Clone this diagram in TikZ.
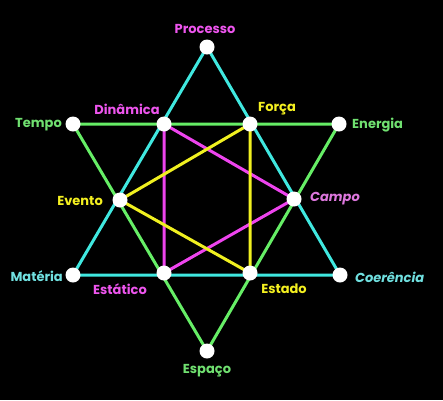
\documentclass[tikz,border=0pt]{standalone}
\usepackage{fontspec}
\setmainfont{Poppins}
\definecolor{cy}{HTML}{40E8E0}
\definecolor{gr}{HTML}{66EE66}
\definecolor{mg}{HTML}{EE44EE}
\definecolor{ye}{HTML}{F0F020}
\definecolor{cyt}{HTML}{70E0E0}
\definecolor{grt}{HTML}{70E070}
\definecolor{mgt}{HTML}{EE55EE}
\definecolor{pkt}{HTML}{DD77DD}
\definecolor{yet}{HTML}{F4F020}
\begin{document}
\begin{tikzpicture}[x=1pt,y=-1pt,
  pt/.style={circle,fill=white,inner sep=0pt,minimum size=15pt},
  lbl/.style={inner sep=0pt,font=\fontsize{13}{15}\selectfont\bfseries},
  ln/.style={line width=3pt}]
\fill[black] (0,0) rectangle (443,400);
\useasboundingbox (0,0) rectangle (443,400);
% points
\coordinate (Proc) at (207,47);
\coordinate (Temp) at (73,124);
\coordinate (Dina) at (164,124);
\coordinate (Forc) at (250,124);
\coordinate (Ener) at (339,124);
\coordinate (Even) at (120,200);
\coordinate (Camp) at (294,199);
\coordinate (Mate) at (73,275);
\coordinate (Esta) at (164,273);
\coordinate (Estd) at (250,273);
\coordinate (Coer) at (340,275);
\coordinate (Espa) at (207,351);
% triangles
\draw[ln,cy] (Proc) -- (Mate) -- (Coer) -- cycle;
\draw[ln,gr] (Temp) -- (Ener) -- (Espa) -- cycle;
\draw[ln,mg] (Dina) -- (Camp) -- (Esta) -- cycle;
\draw[ln,ye] (Forc) -- (Even) -- (Estd) -- cycle;
% dots
\foreach \p in {Proc,Temp,Dina,Forc,Ener,Even,Camp,Mate,Esta,Estd,Coer,Espa}
  \node[pt] (n\p) at (\p) {};
% labels
\node[lbl,text=mgt] (lProc) at (205,29) {Processo};
\node[lbl,text=grt,anchor=east] (lTemp) at (62,125) {Tempo};
\node[lbl,text=mgt] (lDina) at (127,109) {Dinâmica};
\node[lbl,text=yet] (lForc) at (277,109) {Força};
\node[lbl,text=grt,anchor=west] (lEner) at (352,125) {Energia};
\node[lbl,text=yet,anchor=east] (lEven) at (103,201) {Evento};
\node[lbl,text=pkt,anchor=west,font=\fontsize{13}{15}\selectfont\bfseries\itshape] (lCamp) at (310,199) {Campo};
\node[lbl,text=cyt,anchor=east] (lMate) at (63,276) {Matéria};
\node[lbl,text=mgt] (lEsta) at (120,289) {Estático};
\node[lbl,text=yet] (lEstd) at (284,289) {Estado};
\node[lbl,text=cyt,anchor=west,font=\fontsize{13}{15}\selectfont\bfseries\itshape] (lCoer) at (355,277) {Coerência};
\node[lbl,text=grt] (lEspa) at (207,371) {Espaço};
\end{tikzpicture}
\end{document}
